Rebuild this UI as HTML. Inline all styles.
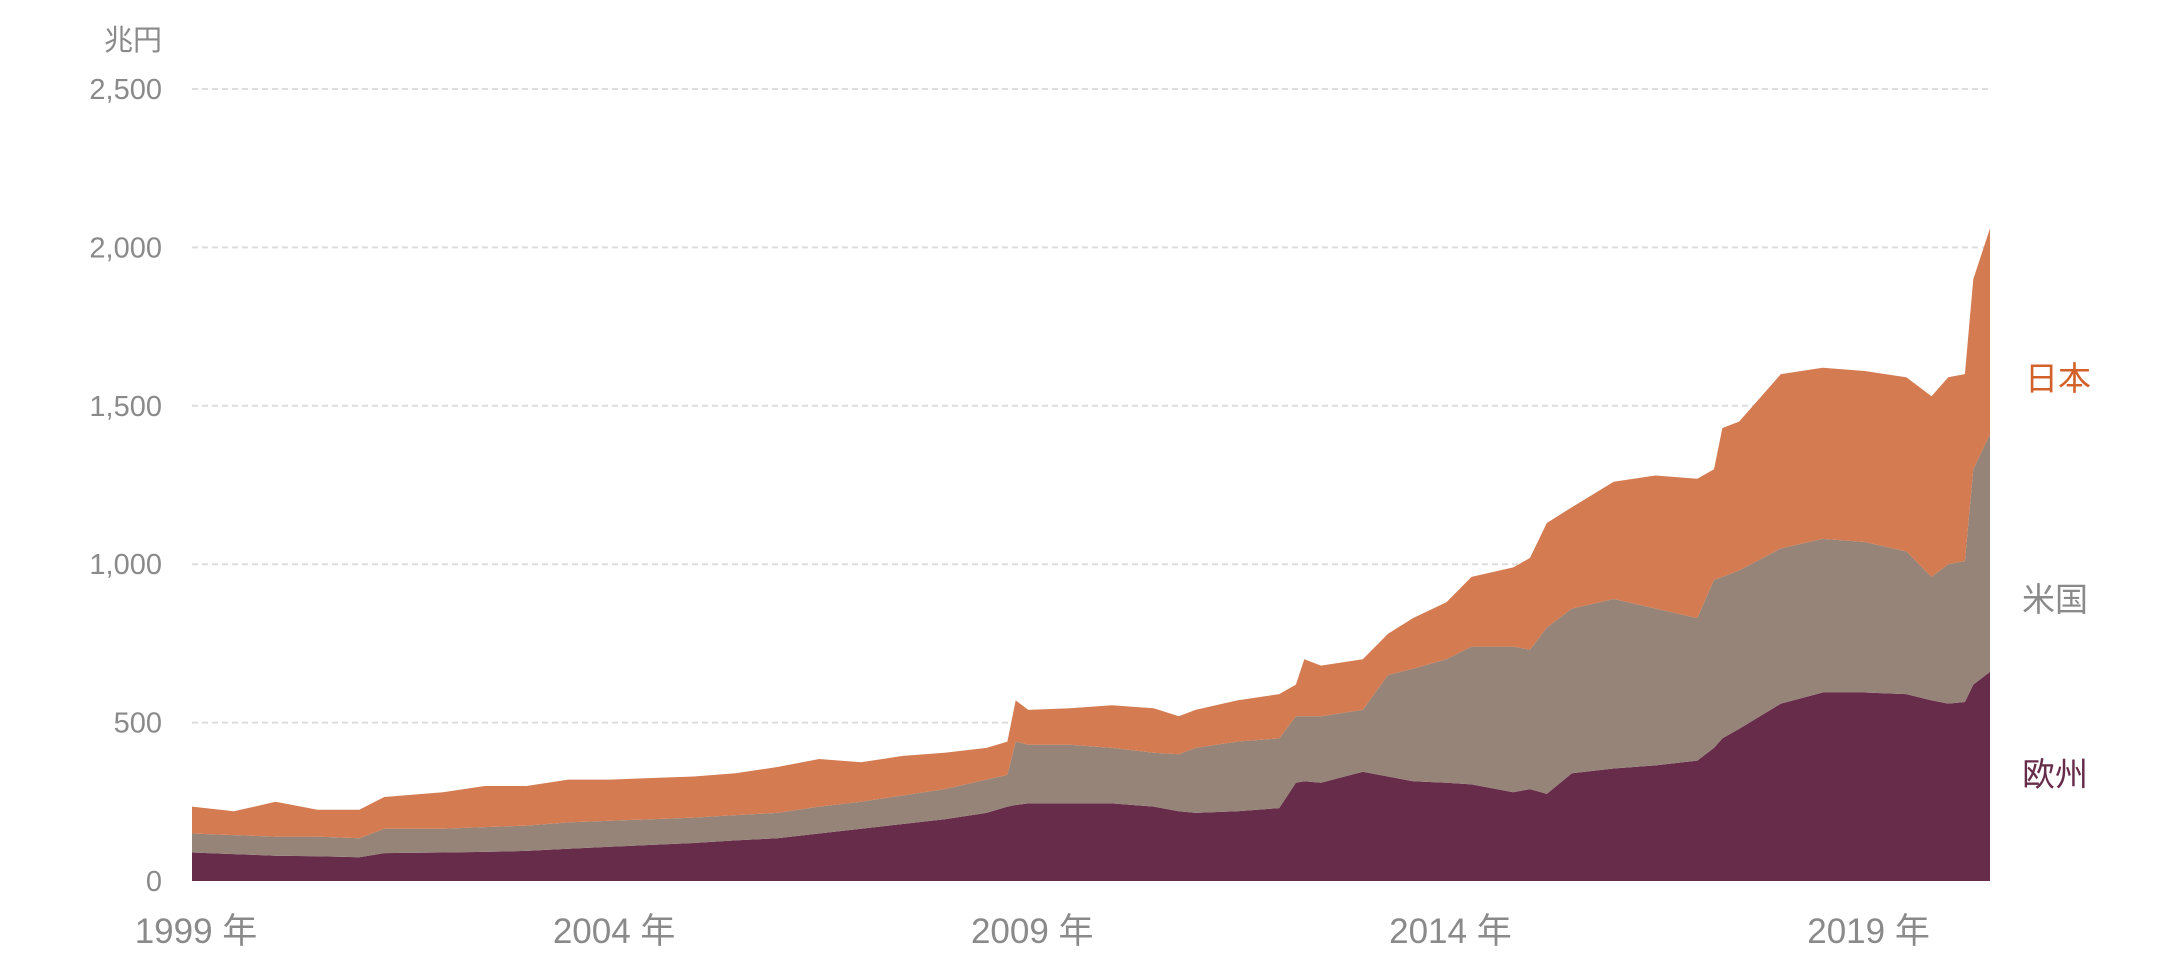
<!DOCTYPE html>
<html><head><meta charset="utf-8"><style>
body{margin:0;background:#fff;}
svg text{font-family:"Liberation Sans","Noto Sans CJK JP",sans-serif;}
</style></head><body>
<svg width="2160" height="960" xmlns="http://www.w3.org/2000/svg">
<g id="grid"></g>
<g id="areas"></g>
<g id="yticks"></g>
<g id="xticks"></g>
<text x="162" y="50" text-anchor="end" font-size="29" fill="#8a8a8a">兆円</text>
<text x="2025" y="390" font-size="33" fill="#d2622a">日本</text>
<text x="2022" y="611" font-size="33" fill="#8a8a8a">米国</text>
<text x="2022" y="786" font-size="33" fill="#662c4a">欧州</text>
</svg>
<script>
const dates=[1999.0,1999.5,2000.0,2000.5,2001.0,2001.3,2002.0,2002.5,2003.0,2003.5,2004.0,2005.0,2005.5,2006.0,2006.5,2007.0,2007.5,2008.0,2008.5,2008.75,2008.85,2009.0,2009.5,2010.0,2010.5,2010.8,2011.0,2011.5,2012.0,2012.2,2012.3,2012.5,2013.0,2013.3,2013.6,2014.0,2014.3,2014.8,2015.0,2015.2,2015.5,2016.0,2016.5,2017.0,2017.2,2017.3,2017.5,2018.0,2018.5,2019.0,2019.5,2019.8,2020.0,2020.2,2020.3,2020.5];
const europe=[90,85,80,78,75,88,90,92,95,102,108,120,128,135,150,165,180,195,215,235,240,245,245,245,235,220,215,220,230,310,315,310,345,330,315,310,305,280,290,275,340,355,365,380,420,450,480,560,595,595,590,570,560,565,620,660];
const us=[60,60,60,62,60,77,75,78,80,83,82,80,80,80,85,85,90,95,105,100,200,185,185,175,170,180,205,220,220,210,205,210,195,320,355,390,435,460,440,525,520,535,495,450,530,510,500,490,485,475,450,390,440,445,680,750];
const japan=[85,75,110,85,90,100,115,130,125,135,130,130,132,145,150,125,125,115,100,105,130,110,115,135,140,120,120,130,140,100,180,160,160,130,160,180,220,250,290,330,320,370,420,440,350,470,470,550,540,540,550,570,590,590,600,650];
const yTicks=[0,500,1000,1500,2000,2500];
const yTickLabels=["0","500","1,000","1,500","2,000","2,500"];
const xTicks=[1999,2004,2009,2014,2019];
const xTickLabels=["1999 年","2004 年","2009 年","2014 年","2019 年"];
const X0=192,X1=1990,Y0=881,Y1=89,D0=1999.0,D1=2020.5,V1=2500;
const sx=d=>X0+(d-D0)/(D1-D0)*(X1-X0);
const sy=v=>Y0-(v/V1)*(Y0-Y1);
const NS="http://www.w3.org/2000/svg";
const grid=document.getElementById('grid'),yt=document.getElementById('yticks'),xt=document.getElementById('xticks'),ar=document.getElementById('areas');
yTicks.forEach((v,i)=>{
  if(v>0){const l=document.createElementNS(NS,'line');
  l.setAttribute('x1',X0);l.setAttribute('x2',X1);l.setAttribute('y1',sy(v));l.setAttribute('y2',sy(v));
  l.setAttribute('stroke','#dddddd');l.setAttribute('stroke-width','2');l.setAttribute('stroke-dasharray','6 4');
  
  
  grid.appendChild(l);}
  const t=document.createElementNS(NS,'text');
  t.setAttribute('x',162);t.setAttribute('y',sy(v)+10);t.setAttribute('text-anchor','end');t.setAttribute('font-size','29');t.setAttribute('fill','#8a8a8a');
  t.textContent=yTickLabels[i];
  
  
  yt.appendChild(t);
});
xTicks.forEach((d,i)=>{
  const t=document.createElementNS(NS,'text');
  t.setAttribute('x',sx(d)+4);t.setAttribute('y',943);t.setAttribute('text-anchor','middle');t.setAttribute('font-size','35');t.setAttribute('fill','#8a8a8a');
  t.textContent=xTickLabels[i];
  
  
  xt.appendChild(t);
});
const series=[europe,us,japan],colors=['#662c4a','#968479','#d47b52'],names=['area-europe','area-us','area-japan'];
let base=dates.map(()=>0);
series.forEach((s,k)=>{
  const top=base.map((b,i)=>b+s[i]);
  let d='';
  dates.forEach((dt,i)=>{d+=(i?'L':'M')+sx(dt).toFixed(1)+','+sy(top[i]).toFixed(1);});
  for(let i=dates.length-1;i>=0;i--){d+='L'+sx(dates[i]).toFixed(1)+','+sy(base[i]).toFixed(1);}
  d+='Z';
  const p=document.createElementNS(NS,'path');
  p.setAttribute('d',d);p.setAttribute('fill',colors[k]);
  
  
  ar.appendChild(p);
  base=top;
});
</script>
</body></html>
